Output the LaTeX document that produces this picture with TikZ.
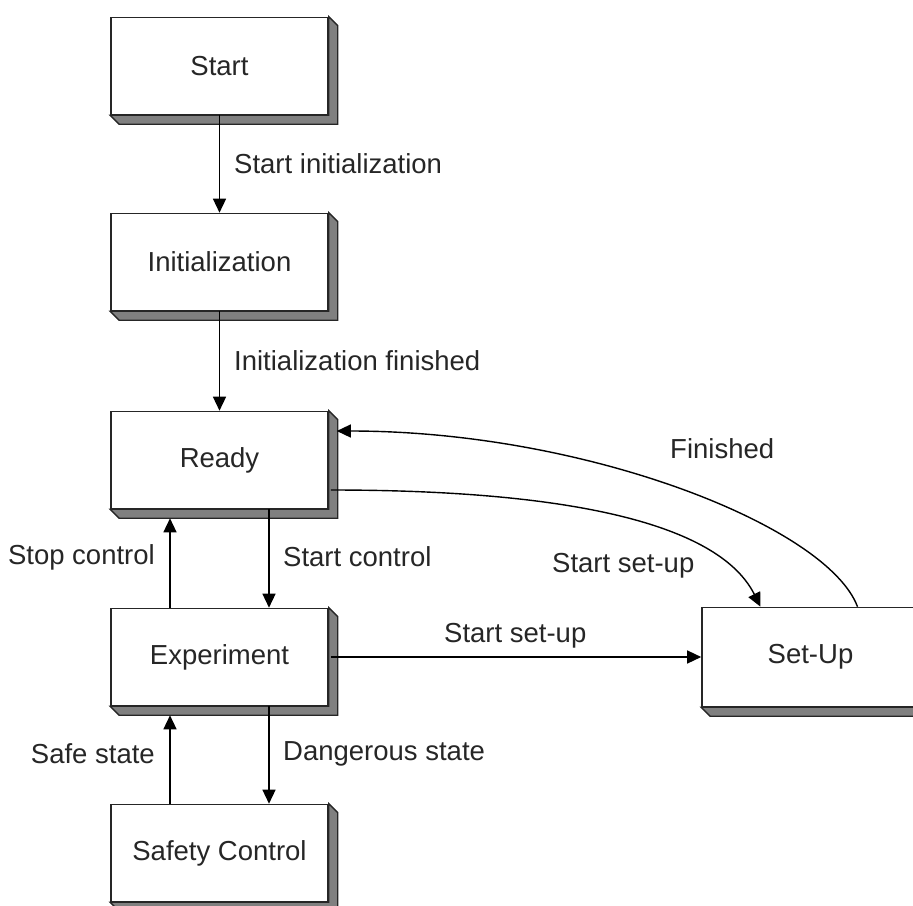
\documentclass[tikz,border=0pt]{standalone}
\usepackage{fontspec}
\setmainfont{Liberation Sans}
\usetikzlibrary{arrows.meta}

% raised look: grey right/bottom faces behind a state box
\newcommand\stateface[1]{%
  \filldraw[fill=black!50, draw=black!85, line width=1.3pt, line join=miter]
    (#1.north east) -- ++(9,9) -- ([shift={(9,9)}]#1.south east)
    -- ([shift={(9,9)}]#1.south west) -- (#1.south west) -- (#1.south east) -- cycle;}

\begin{document}
\begin{tikzpicture}[x=1pt,y=-1pt,
  state/.style={draw=black!85, line width=1.6pt, fill=white,
    minimum width=217pt, minimum height=97pt, inner sep=0pt,
    font=\fontsize{27.5}{32}\selectfont, text=black!85},
  lbl/.style={inner sep=0pt, font=\fontsize{27.5}{32}\selectfont, text=black!85},
  tr/.style={draw=black, line width=1.4pt,
    -{Triangle[length=14pt,width=13pt]}},
]
\useasboundingbox (0,0) rectangle (913,905);

% states
\node[state] (start)  at (219.5,66)  {Start};
\node[state] (init)   at (219.5,262) {Initialization};
\node[state] (ready)  at (219.5,460) {Ready};
\node[state] (exp)    at (219.5,657) {Experiment};
\node[state] (safety) at (219.5,853) {Safety Control};
\node[state, minimum height=99pt] (setup) at (810.5,657) {Set-Up};

\foreach \s in {start,init,ready,exp,safety,setup}{\stateface{\s}}

% transitions
\draw[tr] (start) -- (init);
\draw[tr] (init) -- (ready);
\draw[tr] ([xshift=49.5pt]ready.south) -- ([xshift=49.5pt]exp.north);
\draw[tr] ([xshift=-49.5pt]exp.north) -- ([xshift=-49.5pt,yshift=-9pt]ready.south);
\draw[tr] ([xshift=49.5pt]exp.south) -- ([xshift=49.5pt]safety.north);
\draw[tr] ([xshift=-49.5pt]safety.north) -- ([xshift=-49.5pt,yshift=-9pt]exp.south);
\draw[tr] ([xshift=2pt]exp.east) -- (setup.west);
\draw[tr] ([xshift=2pt,yshift=-30pt]ready.east)
  .. controls +(250,0) and +(-40,-80) .. ([xshift=-50pt]setup.north);
\draw[tr] ([xshift=47pt]setup.north)
  .. controls +(-30,-80) and +(250,0) .. ([xshift=8pt,yshift=29pt]ready.east);

% transition labels
\node[lbl, anchor=west] (tStartInit) at (234,164) {Start initialization};
\node[lbl, anchor=west] (tInitDone)  at (234,361) {Initialization finished};
\node[lbl, anchor=west] (tFinished)  at (670,449) {Finished};
\node[lbl, anchor=east] (tStop)      at (155,557) {Stop control};
\node[lbl, anchor=west] (tStartCtl)  at (283,557) {Start control};
\node[lbl, anchor=west] (tSetupA)    at (552,566) {Start set-up};
\node[lbl, anchor=west] (tSetupB)    at (444,636) {Start set-up};
\node[lbl, anchor=east] (tSafe)      at (155,754) {Safe state};
\node[lbl, anchor=west] (tDanger)    at (283,754) {Dangerous state};
\end{tikzpicture}
\end{document}
